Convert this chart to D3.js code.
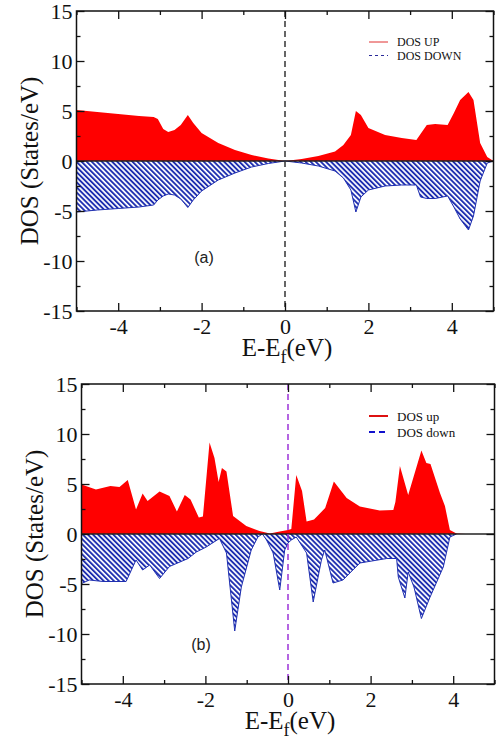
<!DOCTYPE html>
<html>
<head>
<meta charset="utf-8">
<script src="https://cdn.jsdelivr.net/npm/d3@7"></script>
<style>
  body { margin: 0; background: #fff; }
  svg { display: block; }
</style>
</head>
<body>
<svg id="chart" width="497" height="742"></svg>
<script>
// x ticks / y ticks
const xTicks = [-4, -2, 0, 2, 4];
const xMinor = [-5, -3, -1, 1, 3, 5];
const yTicks = [-15, -10, -5, 0, 5, 10, 15];
const yMinor = [-12.5, -7.5, -2.5, 2.5, 7.5, 12.5];

// panel (a)
const energyA = [-5, -4.5, -4, -3.5, -3.15, -3.05, -2.92, -2.8, -2.65, -2.5, -2.33, -2.2, -2.0, -1.6, -1.2, -0.8, -0.4, 0, 0.4, 0.8, 1.2, 1.4, 1.58, 1.7, 1.82, 2.0, 2.4, 2.8, 3.15, 3.25, 3.4, 3.6, 3.9, 4.05, 4.2, 4.4, 4.52, 4.68, 4.85, 5];
const dosUpA = [5.1, 4.9, 4.7, 4.5, 4.4, 4.2, 3.2, 2.9, 3.1, 3.6, 4.6, 3.8, 2.8, 1.8, 1.1, 0.6, 0.25, 0, 0.2, 0.5, 0.95, 1.6, 2.6, 5.0, 4.6, 3.3, 2.6, 2.3, 2.1, 2.7, 3.6, 3.7, 3.6, 4.8, 6.1, 6.9, 6.1, 1.8, 0.4, 0];
const dosDownA = [-5.1, -4.9, -4.75, -4.6, -4.4, -3.9, -3.5, -3.3, -3.4, -3.8, -4.65, -3.9, -3.0, -1.9, -1.2, -0.6, -0.25, 0, -0.2, -0.5, -1.0, -1.7, -2.9, -5.1, -3.6, -2.9, -2.5, -2.4, -2.4, -3.6, -3.75, -3.75, -3.5, -4.6, -5.8, -6.9, -5.5, -2.0, -0.2, 0];

// panel (b)
const energyUpB = [-5, -4.65, -4.3, -4.08, -3.88, -3.68, -3.52, -3.4, -3.11, -2.87, -2.69, -2.5, -2.36, -2.16, -2.06, -1.9, -1.78, -1.68, -1.6, -1.49, -1.33, -1.01, -0.69, -0.44, -0.2, 0, 0.08, 0.2, 0.34, 0.45, 0.63, 0.9, 1.11, 1.42, 1.74, 2.22, 2.55, 2.6, 2.71, 2.91, 3.23, 3.35, 3.45, 3.68, 3.8, 3.92, 4.08, 4.3];
const dosUpB = [4.95, 4.45, 4.8, 4.7, 5.4, 2.45, 4.05, 3.3, 4.25, 3.8, 2.25, 3.9, 3.45, 1.65, 1.75, 9.15, 7.6, 5.2, 6.6, 6.25, 1.8, 0.8, 0.3, 0.05, 0.25, 0.4, 0.5, 5.9, 4.3, 1.25, 1.45, 2.6, 5.25, 3.6, 2.75, 2.35, 2.4, 3.2, 6.8, 3.9, 8.35, 7.1, 7.0, 4.1, 2.8, 0.4, 0.05, 0];
const energyDownB = [-5, -4.81, -4.48, -3.92, -3.68, -3.52, -3.35, -3.11, -2.87, -2.42, -2.22, -1.98, -1.66, -1.49, -1.29, -1.13, -0.89, -0.73, -0.62, -0.52, -0.36, -0.2, -0.08, 0, 0.08, 0.2, 0.45, 0.61, 0.81, 0.89, 1.09, 1.33, 1.74, 2.39, 2.63, 2.67, 2.83, 2.91, 3.05, 3.23, 3.43, 3.76, 3.92, 4.08];
const dosDownB = [-4.95, -4.6, -4.75, -4.75, -2.6, -3.6, -3.1, -4.45, -3.25, -2.45, -1.8, -1.3, -0.45, -1.9, -9.7, -5.3, -1.6, -0.3, 0, -0.6, -1.9, -5.6, -1.6, -0.9, -0.6, -0.3, -1.9, -6.8, -2.6, -1.6, -4.9, -4.6, -2.9, -2.45, -2.45, -4.3, -6.4, -3.8, -5.3, -8.45, -6.4, -3.3, -0.3, 0];

const serif = '"Liberation Serif", "Times New Roman", serif';
const svg = d3.select('#chart');

// hatch for spin down
const defs = svg.append('defs');
defs.append('pattern')
  .attr('id', 'hatch')
  .attr('patternUnits', 'userSpaceOnUse')
  .attr('width', 3.6)
  .attr('height', 3.6)
  .attr('patternTransform', 'rotate(-45)')
  .append('rect')
  .attr('width', 1.9)
  .attr('height', 3.6)
  .attr('fill', '#1f2fb0');

function panel(cfg) {
  const x = d3.scaleLinear().domain([-5, 5]).range([cfg.left, cfg.right]);
  const y = d3.scaleLinear().domain([-15, 15]).range([cfg.bottom, cfg.top]);

  const g = svg.append('g');
  const clipId = 'clip' + cfg.name;
  defs.append('clipPath').attr('id', clipId)
    .append('rect')
    .attr('x', cfg.left).attr('y', cfg.top)
    .attr('width', cfg.right - cfg.left).attr('height', cfg.bottom - cfg.top);

  const plot = g.append('g').attr('clip-path', `url(#${clipId})`);

  const downPts = cfg.eDown.map((e, i) => [e, cfg.down[i]]);
  const upPts = cfg.eUp.map((e, i) => [e, cfg.up[i]]);

  const area = d3.area().x(d => x(d[0])).y0(y(0)).y1(d => y(d[1]));
  const line = d3.line().x(d => x(d[0])).y(d => y(d[1]));

  plot.append('path').datum(downPts)
    .attr('d', area)
    .attr('fill', 'url(#hatch)');
  plot.append('path').datum(downPts)
    .attr('d', line)
    .attr('fill', 'none')
    .attr('stroke', '#1f2fb0')
    .attr('stroke-width', 1);

  plot.append('path').datum(upPts)
    .attr('d', area)
    .attr('fill', '#ff0000');

  // zero line
  plot.append('line')
    .attr('x1', cfg.left).attr('x2', cfg.right)
    .attr('y1', y(0)).attr('y2', y(0))
    .attr('stroke', '#222').attr('stroke-width', 1.3);

  // fermi level
  plot.append('line')
    .attr('x1', x(0)).attr('x2', x(0))
    .attr('y1', cfg.top).attr('y2', cfg.bottom)
    .attr('stroke', cfg.fermiColor)
    .attr('stroke-width', 1.5)
    .attr('stroke-dasharray', '6,4');

  // axes, ticks pointing inwards
  const noLabel = () => '';
  g.append('g').attr('transform', `translate(0,${cfg.bottom})`)
    .call(d3.axisBottom(x).tickValues(xTicks).tickSize(-8).tickPadding(7).tickFormat(d => String(d)));
  g.append('g').attr('transform', `translate(0,${cfg.bottom})`)
    .call(d3.axisBottom(x).tickValues(xMinor).tickSize(-4).tickFormat(noLabel));
  g.append('g').attr('transform', `translate(0,${cfg.top})`)
    .call(d3.axisTop(x).tickValues(xTicks).tickSize(-8).tickFormat(noLabel));
  g.append('g').attr('transform', `translate(0,${cfg.top})`)
    .call(d3.axisTop(x).tickValues(xMinor).tickSize(-4).tickFormat(noLabel));

  g.append('g').attr('transform', `translate(${cfg.left},0)`)
    .call(d3.axisLeft(y).tickValues(yTicks).tickSize(-8).tickPadding(4).tickFormat(d => String(d)));
  g.append('g').attr('transform', `translate(${cfg.left},0)`)
    .call(d3.axisLeft(y).tickValues(yMinor).tickSize(-4).tickFormat(noLabel));
  g.append('g').attr('transform', `translate(${cfg.right},0)`)
    .call(d3.axisRight(y).tickValues(yTicks).tickSize(-8).tickFormat(noLabel));
  g.append('g').attr('transform', `translate(${cfg.right},0)`)
    .call(d3.axisRight(y).tickValues(yMinor).tickSize(-4).tickFormat(noLabel));

  g.selectAll('.domain').remove();
  g.selectAll('.tick line').attr('stroke', '#111').attr('stroke-width', 1.3);
  g.selectAll('.tick text')
    .attr('font-family', serif)
    .attr('font-size', 22)
    .attr('fill', '#111');

  g.append('rect')
    .attr('x', cfg.left).attr('y', cfg.top)
    .attr('width', cfg.right - cfg.left).attr('height', cfg.bottom - cfg.top)
    .attr('fill', 'none').attr('stroke', '#111').attr('stroke-width', 1.5);

  // titles
  g.append('text')
    .attr('transform', `translate(${cfg.left - 39},${(cfg.top + cfg.bottom) / 2}) rotate(-90)`)
    .attr('text-anchor', 'middle')
    .attr('font-family', serif)
    .attr('font-size', 25)
    .attr('fill', '#111')
    .text('DOS (States/eV)');

  const xt = g.append('text')
    .attr('x', x(0) + 2).attr('y', cfg.bottom + 45)
    .attr('text-anchor', 'middle')
    .attr('font-family', serif)
    .attr('font-size', 25)
    .attr('fill', '#111');
  xt.append('tspan').text('E-E');
  xt.append('tspan').attr('font-size', 18).attr('dy', 7).text('f');
  xt.append('tspan').attr('dy', -7).text('(eV)');

  g.append('text')
    .attr('x', cfg.labelX).attr('y', cfg.labelY)
    .attr('text-anchor', 'middle')
    .attr('font-family', '"Liberation Sans", Arial, sans-serif')
    .attr('font-size', 16)
    .attr('fill', '#222')
    .text(cfg.label);

  // legend
  const lg = g.append('g');
  cfg.legend.forEach((item, i) => {
    const ly = cfg.legendY + i * cfg.legendGap;
    lg.append('line')
      .attr('x1', 369).attr('x2', 388)
      .attr('y1', ly).attr('y2', ly)
      .attr('stroke', item.color)
      .attr('stroke-width', cfg.legendWidth)
      .attr('stroke-dasharray', item.dash);
    lg.append('text')
      .attr('x', 397).attr('y', ly + cfg.legendSize * 0.35)
      .attr('font-family', serif)
      .attr('font-size', cfg.legendSize)
      .attr('fill', '#111')
      .text(item.text);
  });
}

panel({
  name: 'a', left: 76.5, right: 493.5, top: 11, bottom: 311,
  eUp: energyA, up: dosUpA, eDown: energyA, down: dosDownA,
  fermiColor: '#333', label: '(a)', labelX: 204, labelY: 263,
  legend: [
    { text: 'DOS UP', color: '#e03030', dash: null },
    { text: 'DOS DOWN', color: '#2a2a9a', dash: '3,3' }
  ],
  legendY: 42, legendGap: 13.5, legendWidth: 1, legendSize: 12
});

panel({
  name: 'b', left: 81.5, right: 494.5, top: 384, bottom: 684,
  eUp: energyUpB, up: dosUpB, eDown: energyDownB, down: dosDownB,
  fermiColor: '#9b30d9', label: '(b)', labelX: 201, labelY: 650,
  legend: [
    { text: 'DOS up', color: '#dd1111', dash: null },
    { text: 'DOS down', color: '#1111cc', dash: '6,4' }
  ],
  legendY: 416, legendGap: 16, legendWidth: 2, legendSize: 13
});
</script>
</body>
</html>
